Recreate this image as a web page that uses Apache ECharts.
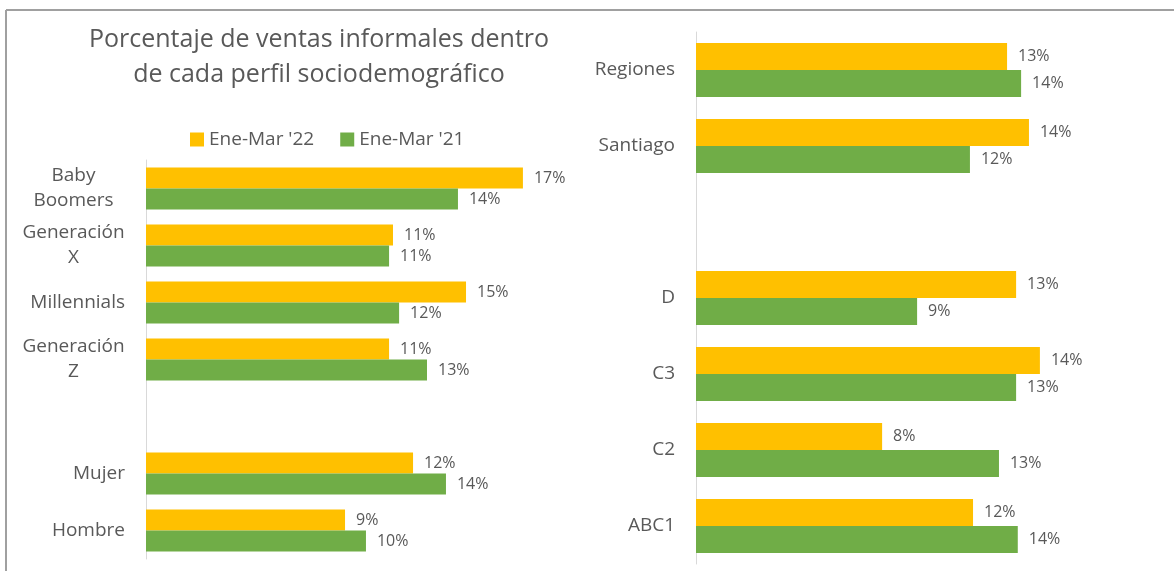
<!DOCTYPE html>
<html>
<head>
<meta charset="utf-8">
<script src="https://cdn.jsdelivr.net/npm/echarts@6/dist/echarts.min.js"></script>
<style>html,body{margin:0;padding:0;background:#fff;}#c{width:1174px;height:571px;}</style>
</head>
<body>
<div id="c"></div>
<script>
const leftCategories = ['Baby\nBoomers', 'Generación\nX', 'Millennials', 'Generación\nZ', '', 'Mujer', 'Hombre'];
const leftSeries22 = [17.29, 11.33, 14.68, 11.15, null, 12.25, 9.13];
const leftSeries21 = [14.31, 11.15, 11.61, 12.89, null, 13.76, 10.09];
const rightCategories = ['Regiones', 'Santiago', '', 'D', 'C3', 'C2', 'ABC1'];
const rightSeries22 = [13.07, 13.99, null, 13.45, 14.45, 7.82, 11.64];
const rightSeries21 = [13.66, 11.51, null, 9.29, 13.45, 12.73, 13.52];
const seriesNames = ["Ene-Mar '22", "Ene-Mar '21"];
const titleText = 'Porcentaje de ventas informales dentro\nde cada perfil sociodemográfico';

const FONT = 'Open Sans';
const TXT = '#595959';
const C22 = '#FFC000';
const C21 = '#70AD47';
const CAT_SIZE = 19;

const ctx = document.createElement('canvas').getContext('2d');
ctx.font = CAT_SIZE + 'px "' + FONT + '"';

const chart = echarts.init(document.getElementById('c'));
const lbl = {
  show: true, position: 'right', distance: 11, color: TXT, fontSize: 16, fontFamily: FONT,
  formatter: p => Math.round(p.value) + '%'
};
function catAxis(idx, data) {
  // width of the widest line of multi-line labels, so lines centre inside a right-aligned block
  let maxW = 0;
  data.forEach(d => { if (d.indexOf('\n') >= 0) d.split('\n').forEach(l => { maxW = Math.max(maxW, ctx.measureText(l).width); }); });
  return {
    type: 'category', gridIndex: idx, data: data, inverse: true,
    axisLine: { show: true, lineStyle: { color: '#d9d9d9', width: 1 } },
    axisTick: { show: false },
    axisLabel: {
      color: TXT, fontSize: CAT_SIZE, fontFamily: FONT, margin: 21, lineHeight: 25, align: 'right',
      formatter: v => v.indexOf('\n') < 0 ? v : v.split('\n').map(l => '{c|' + l + '}').join('\n'),
      rich: { c: { align: 'center', width: Math.ceil(maxW), color: TXT, fontSize: CAT_SIZE, fontFamily: FONT, lineHeight: 25 } }
    }
  };
}
function valAxis(idx) {
  return { type: 'value', gridIndex: idx, min: 0, max: 20, show: false, splitLine: { show: false } };
}
chart.setOption({
  animation: false,
  backgroundColor: '#fff',
  title: {
    text: titleText, left: 314, top: 17, textAlign: 'center',
    textStyle: { color: TXT, fontSize: 25, fontWeight: 'normal', fontFamily: FONT, lineHeight: 35 }
  },
  legend: {
    data: seriesNames, left: 185, top: 125, itemWidth: 14, itemHeight: 14, itemGap: 26,
    icon: 'rect',
    textStyle: { color: TXT, fontSize: 19, fontFamily: FONT }
  },
  graphic: [
    { type: 'line', shape: { x1: 6, y1: 10, x2: 1174, y2: 10 }, style: { stroke: '#a0a0a0', lineWidth: 2 } },
    { type: 'line', shape: { x1: 6, y1: 10, x2: 6, y2: 571 }, style: { stroke: '#a0a0a0', lineWidth: 2 } }
  ],
  grid: [
    { left: 146, top: 160, width: 436, height: 399 },
    { left: 696, top: 32, width: 476, height: 532 }
  ],
  xAxis: [valAxis(0), valAxis(1)],
  yAxis: [catAxis(0, leftCategories), catAxis(1, rightCategories)],
  series: [
    { name: seriesNames[0], type: 'bar', xAxisIndex: 0, yAxisIndex: 0, data: leftSeries22, barWidth: 21, barGap: '0%', itemStyle: { color: C22 }, label: lbl },
    { name: seriesNames[1], type: 'bar', xAxisIndex: 0, yAxisIndex: 0, data: leftSeries21, barWidth: 21, barGap: '0%', itemStyle: { color: C21 }, label: lbl },
    { name: seriesNames[0], type: 'bar', xAxisIndex: 1, yAxisIndex: 1, data: rightSeries22, barWidth: 27, barGap: '0%', itemStyle: { color: C22 }, label: lbl },
    { name: seriesNames[1], type: 'bar', xAxisIndex: 1, yAxisIndex: 1, data: rightSeries21, barWidth: 27, barGap: '0%', itemStyle: { color: C21 }, label: lbl }
  ]
});
</script>
</body>
</html>
